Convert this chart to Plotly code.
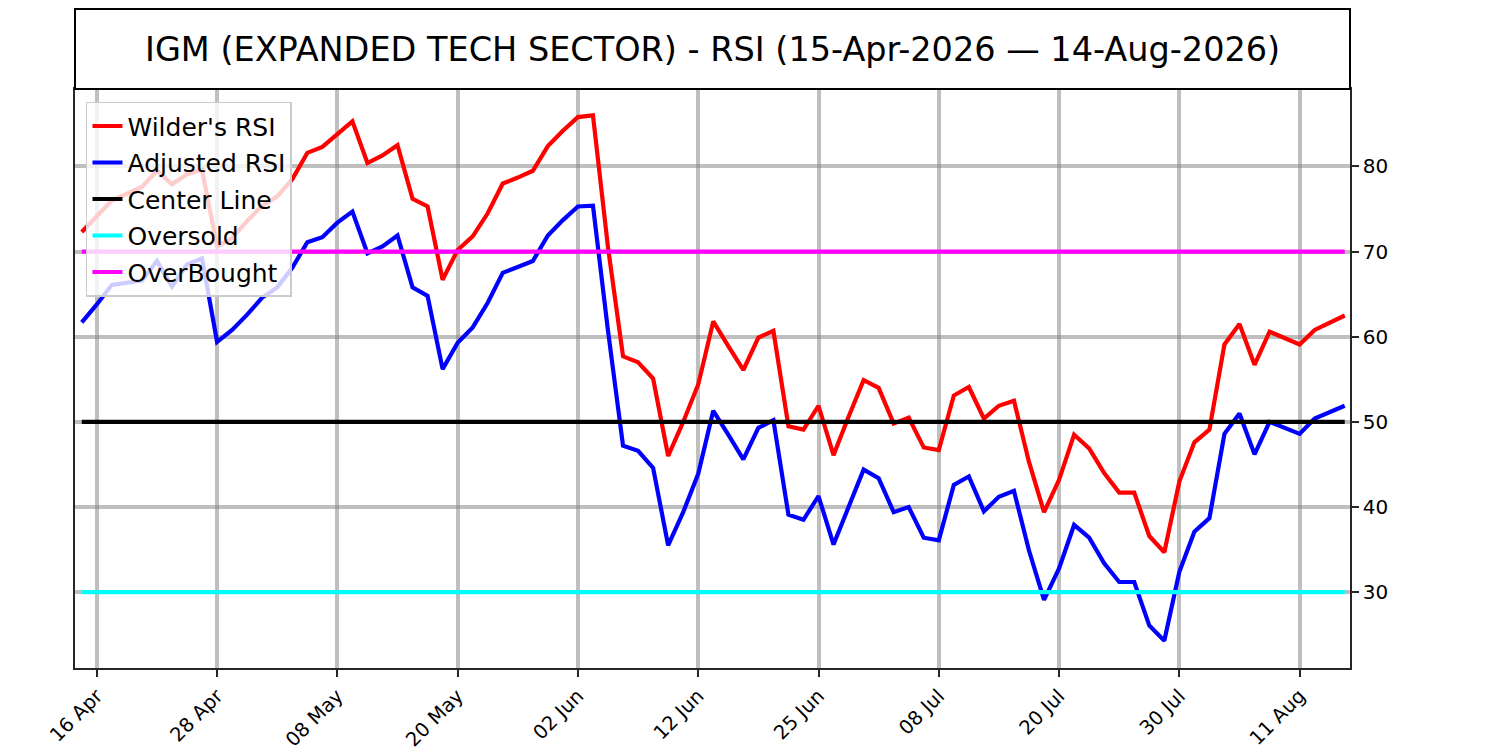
import plotly.graph_objs as go
from datetime import datetime

# trading days 15 Apr 2026 - 14 Aug 2026 (weekends and US market holidays skipped)
dates = [
    "2026-04-15", "2026-04-16", "2026-04-17", "2026-04-20", "2026-04-21", "2026-04-22",
    "2026-04-23", "2026-04-24", "2026-04-27", "2026-04-28", "2026-04-29", "2026-04-30",
    "2026-05-01", "2026-05-04", "2026-05-05", "2026-05-06", "2026-05-07", "2026-05-08",
    "2026-05-11", "2026-05-12", "2026-05-13", "2026-05-14", "2026-05-15", "2026-05-18",
    "2026-05-19", "2026-05-20", "2026-05-21", "2026-05-22", "2026-05-26", "2026-05-27",
    "2026-05-28", "2026-05-29", "2026-06-01", "2026-06-02", "2026-06-03", "2026-06-04",
    "2026-06-05", "2026-06-08", "2026-06-09", "2026-06-10", "2026-06-11", "2026-06-12",
    "2026-06-15", "2026-06-16", "2026-06-17", "2026-06-18", "2026-06-22", "2026-06-23",
    "2026-06-24", "2026-06-25", "2026-06-26", "2026-06-29", "2026-06-30", "2026-07-01",
    "2026-07-02", "2026-07-06", "2026-07-07", "2026-07-08", "2026-07-09", "2026-07-10",
    "2026-07-13", "2026-07-14", "2026-07-15", "2026-07-16", "2026-07-17", "2026-07-20",
    "2026-07-21", "2026-07-22", "2026-07-23", "2026-07-24", "2026-07-27", "2026-07-28",
    "2026-07-29", "2026-07-30", "2026-07-31", "2026-08-03", "2026-08-04", "2026-08-05",
    "2026-08-06", "2026-08-07", "2026-08-10", "2026-08-11", "2026-08-12", "2026-08-13",
    "2026-08-14",
]

wilder_rsi = [
    72.3, 74.2, 76.0, 76.8, 77.6, 79.5, 77.9, 79.1, 79.6, 70.6,
    71.6, 73.6, 75.4, 76.5, 78.5, 81.6, 82.3, 83.8, 85.3, 80.4,
    81.3, 82.5, 76.2, 75.3, 66.7, 70.2, 71.8, 74.5, 78.0, 78.7,
    79.5, 82.4, 84.2, 85.8, 86.0, 70.5, 57.7, 57.0, 55.1, 46.0,
    50.0, 54.4, 61.8, 58.9, 56.1, 59.9, 60.7, 49.5, 49.1, 51.9,
    46.1, 50.6, 54.9, 54.0, 49.8, 50.5, 47.0, 46.7, 53.1, 54.1,
    50.4, 51.9, 52.5, 45.3, 39.4, 43.2, 48.5, 46.9, 44.0, 41.7,
    41.7, 36.6, 34.7, 43.0, 47.6, 49.1, 59.1, 61.5, 56.7, 60.6,
    59.9, 59.1, 60.8, 61.7, 62.5,
]

adjusted_rsi = [
    61.7, 63.8, 66.1, 66.4, 66.6, 68.9, 65.9, 68.5, 69.2, 59.4,
    60.8, 62.6, 64.6, 65.8, 68.1, 71.1, 71.7, 73.4, 74.7, 69.8,
    70.6, 71.9, 65.8, 64.8, 56.2, 59.3, 61.1, 64.0, 67.5, 68.2,
    68.9, 71.9, 73.7, 75.3, 75.4, 60.7, 47.2, 46.6, 44.6, 35.5,
    39.4, 43.9, 51.3, 48.5, 45.6, 49.3, 50.2, 39.1, 38.5, 41.3,
    35.6, 40.0, 44.4, 43.4, 39.4, 40.0, 36.4, 36.1, 42.6, 43.6,
    39.5, 41.2, 41.9, 34.9, 29.1, 32.8, 37.9, 36.4, 33.4, 31.2,
    31.2, 26.1, 24.3, 32.4, 37.1, 38.7, 48.6, 51.0, 46.2, 50.0,
    49.3, 48.6, 50.4, 51.2, 51.9,
]

center_level = 50
oversold_level = 30
overbought_level = 70

ytick_vals = [30, 40, 50, 60, 70, 80]

# x ticks every 8 trading days, starting from the 2nd day
tick_dates = dates[1::8]
tick_text = [datetime.strptime(d, "%Y-%m-%d").strftime("%d %b") for d in tick_dates]

font_family = "DejaVu Sans"
grid_color = "rgba(128,128,128,0.5)"
spine_color = "#262626"

# page has an 8px body margin; figure sized so it reaches the window edges
fig_w, fig_h = 1492, 742
m_top, m_bottom = 81, 82
plot_h = fig_h - m_top - m_bottom

fig = go.Figure()

fig.add_trace(go.Scatter(x=dates, y=wilder_rsi, mode="lines", name="Wilder's RSI",
                         line=dict(color="red", width=4.2), legendgroup="a"))
fig.add_trace(go.Scatter(x=dates, y=adjusted_rsi, mode="lines", name="Adjusted RSI",
                         line=dict(color="blue", width=4.2), legendgroup="b"))
fig.add_trace(go.Scatter(x=dates, y=[center_level] * len(dates), mode="lines", name="Center Line",
                         line=dict(color="black", width=4.2), legendgroup="c"))
fig.add_trace(go.Scatter(x=dates, y=[oversold_level] * len(dates), mode="lines", name="Oversold",
                         line=dict(color="cyan", width=4.2), legendgroup="d"))
fig.add_trace(go.Scatter(x=dates, y=[overbought_level] * len(dates), mode="lines", name="OverBought",
                         line=dict(color="magenta", width=4.2), legendgroup="e"))

# title box above the plot area
fig.add_shape(type="rect", xref="paper", yref="paper", x0=0, x1=1, y0=1, y1=1 + 80 / plot_h,
              line=dict(color="black", width=2), fillcolor="white", layer="above")
fig.add_annotation(xref="paper", yref="paper", x=0.5, y=1 + 39.5 / plot_h, showarrow=False,
                   text="IGM (EXPANDED TECH SECTOR) - RSI (15-Apr-2026 \u2014 14-Aug-2026)",
                   font=dict(size=33.5, color="black", family=font_family),
                   xanchor="center", yanchor="middle")

fig.update_xaxes(
    type="category",
    range=[-0.45, 84.35],
    tickvals=tick_dates,
    ticktext=tick_text,
    tickangle=-45,
    ticks="outside",
    ticklen=7,
    tickwidth=1.6,
    tickcolor=spine_color,
    showgrid=True,
    gridcolor=grid_color,
    gridwidth=4,
    showline=True,
    mirror=True,
    linecolor=spine_color,
    linewidth=1.6,
    zeroline=False,
    automargin=False,
    tickfont=dict(size=19.5, color="black", family=font_family),
)

fig.update_yaxes(
    side="right",
    range=[21.1, 89.1],
    tickvals=ytick_vals,
    ticks="outside",
    ticklen=7,
    tickwidth=1.6,
    tickcolor=spine_color,
    showgrid=True,
    gridcolor=grid_color,
    gridwidth=4,
    showline=True,
    mirror=True,
    linecolor=spine_color,
    linewidth=1.6,
    zeroline=False,
    automargin=False,
    tickfont=dict(size=20, color="black", family=font_family),
)

fig.update_layout(
    width=fig_w,
    height=fig_h,
    margin=dict(l=67, r=150, t=m_top, b=m_bottom),
    paper_bgcolor="white",
    plot_bgcolor="white",
    font=dict(family=font_family, color="black"),
    showlegend=True,
    legend=dict(
        x=0.0086, y=0.978, xanchor="left", yanchor="top",
        bgcolor="rgba(255,255,255,0.8)",
        bordercolor="#cccccc", borderwidth=1.5,
        font=dict(size=25, color="black", family=font_family),
        tracegroupgap=1,
        itemwidth=30,
    ),
)

fig.write_html("out.html")
